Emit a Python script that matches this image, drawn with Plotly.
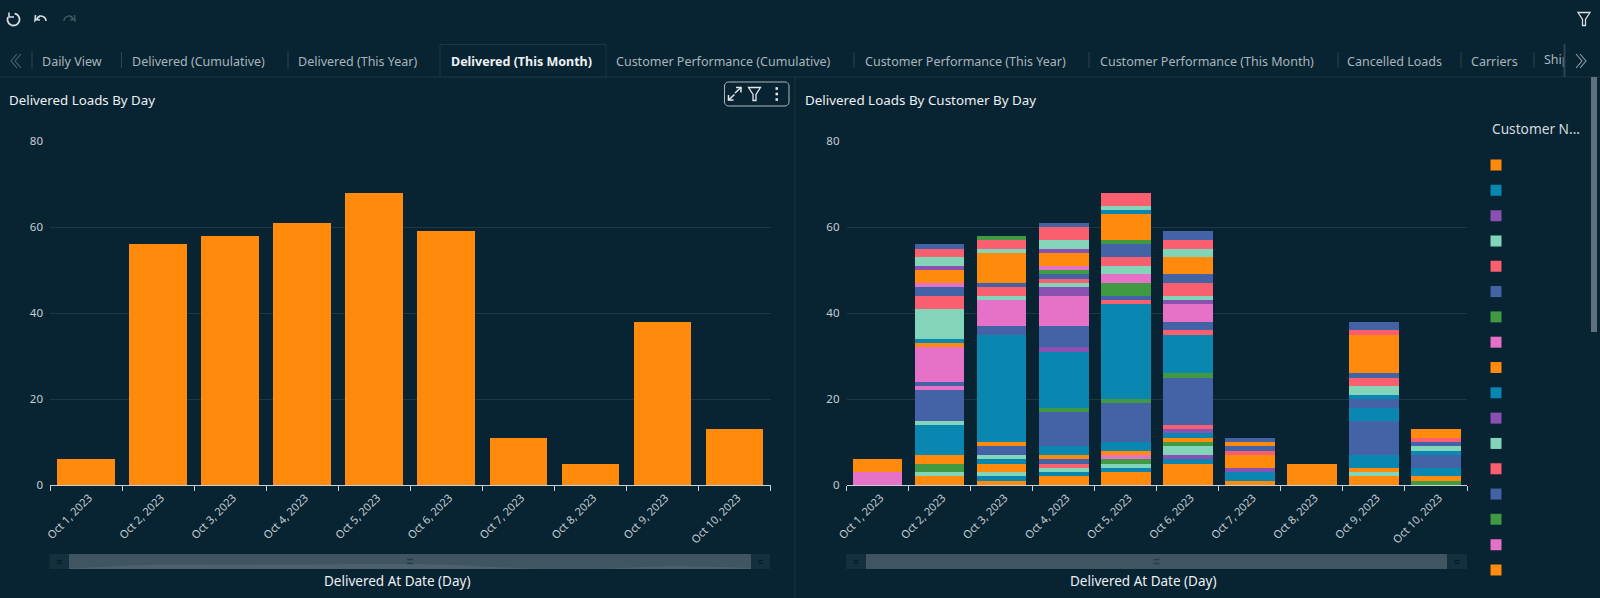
import numpy as np
import plotly.graph_objects as go

W, H = 1600, 598
BG = "#082332"
FONT = "Noto Sans"

days = ["Oct 1, 2023", "Oct 2, 2023", "Oct 3, 2023", "Oct 4, 2023", "Oct 5, 2023",
        "Oct 6, 2023", "Oct 7, 2023", "Oct 8, 2023", "Oct 9, 2023", "Oct 10, 2023"]
delivered_loads = [6, 56, 58, 61, 68, 59, 11, 5, 38, 13]

# Customer ranks and their load counts, one pair of lists per delivery day.
oct_1_customers = [7, 8]
oct_1_loads = [3, 3]
oct_2_customers = [0, 3, 6, 8, 9, 11, 13, 15, 21, 23, 24, 25, 27, 28, 29, 31, 32, 34, 35, 36, 37]
oct_2_loads = [2, 1, 2, 2, 7, 1, 7, 1, 1, 8, 1, 1, 7, 3, 2, 1, 3, 1, 2, 2, 1]
oct_3_customers = [0, 1, 3, 8, 9, 11, 13, 16, 17, 21, 23, 27, 28, 29, 32, 35, 36, 38]
oct_3_loads = [1, 1, 1, 2, 1, 1, 2, 1, 25, 2, 6, 1, 2, 1, 7, 1, 2, 1]
oct_4_customers = [0, 1, 3, 4, 5, 8, 9, 13, 14, 17, 18, 21, 23, 26, 27, 28, 29, 30, 31, 32, 34, 35, 36, 37]
oct_4_loads = [2, 1, 1, 1, 1, 1, 2, 8, 1, 13, 1, 5, 7, 2, 1, 1, 1, 1, 1, 3, 1, 2, 3, 1]
oct_5_customers = [0, 1, 3, 6, 7, 8, 9, 13, 14, 17, 20, 21, 22, 23, 27, 28, 29, 30, 32, 33, 35, 36]
oct_5_loads = [3, 1, 1, 1, 1, 1, 2, 9, 1, 22, 1, 1, 3, 2, 2, 2, 3, 1, 6, 1, 1, 3]
oct_6_customers = [0, 1, 2, 3, 6, 8, 9, 10, 12, 13, 14, 17, 20, 21, 23, 26, 27, 28, 29, 32, 35, 36, 37]
oct_6_loads = [5, 1, 1, 2, 1, 1, 1, 1, 1, 11, 1, 9, 1, 2, 4, 1, 1, 3, 2, 4, 2, 2, 2]
oct_7_customers = [0, 1, 2, 8, 12, 13, 16, 21]
oct_7_loads = [1, 2, 1, 3, 1, 1, 1, 1]
oct_8_customers = [0]
oct_8_loads = [5]
oct_9_customers = [0, 3, 8, 9, 13, 17, 21, 25, 27, 28, 29, 32, 36, 37]
oct_9_loads = [2, 1, 1, 3, 8, 3, 2, 1, 2, 2, 1, 9, 1, 2]
oct_10_customers = [6, 8, 9, 13, 17, 27, 29, 36, 40]
oct_10_loads = [1, 1, 2, 3, 1, 1, 1, 1, 2]

day_customers = [oct_1_customers, oct_2_customers, oct_3_customers, oct_4_customers, oct_5_customers,
                 oct_6_customers, oct_7_customers, oct_8_customers, oct_9_customers, oct_10_customers]
day_loads = [oct_1_loads, oct_2_loads, oct_3_loads, oct_4_loads, oct_5_loads,
             oct_6_loads, oct_7_loads, oct_8_loads, oct_9_loads, oct_10_loads]

legend_ranks = list(range(17))
y_ticks = [0, 20, 40, 60, 80]

tab_labels = ["Daily View", "Delivered (Cumulative)", "Delivered (This Year)", "Delivered (This Month)",
              "Customer Performance (Cumulative)", "Customer Performance (This Year)",
              "Customer Performance (This Month)", "Cancelled Loads", "Carriers"]
tab_starts = [42, 132, 298, 450.5, 616, 865, 1100, 1347, 1471]
tab_separators = [32, 121.5, 288, 854, 1089, 1338, 1461, 1534]

palette = ["#ff8a0c", "#0a87b0", "#8a50b2", "#83d5ba", "#fa5f70", "#4463a6", "#3f9a41", "#e671c9"]


def px(x):
    return x / W


def py(y):
    return 1 - y / H


def dom_x(a, b):
    return [px(a), px(b)]


def dom_y(top, bottom):
    return [py(bottom), py(top)]


def path_from(points, close=False):
    d = "M " + " L ".join(f"{px(x):.5f} {py(y):.5f}" for x, y in points)
    return d + (" Z" if close else "")


shapes = []


def rect(x0, y0, x1, y1, fill, line=None, width=1):
    shapes.append(dict(type="rect", xref="paper", yref="paper", x0=px(x0), x1=px(x1), y0=py(y0), y1=py(y1),
                       fillcolor=fill, line=dict(color=line or fill, width=width if line else 0), layer="below"))


def stroke(points, color="#d5dbdf", width=1.4, close=False, fill=None, layer="above"):
    shapes.append(dict(type="path", xref="paper", yref="paper", path=path_from(points, close),
                       line=dict(color=color, width=width), fillcolor=fill or "rgba(0,0,0,0)", layer=layer))


def arc(cx, cy, r, start, end, n=24):
    t = np.radians(np.linspace(start, end, n))
    return [(cx + r * np.cos(a), cy + r * np.sin(a)) for a in t]


def funnel(cx, cy, color="#d5dbdf"):
    stroke([(cx - 6, cy - 6.5), (cx + 6, cy - 6.5), (cx + 1.5, cy + 0.5), (cx + 1.5, cy + 6.5),
            (cx - 1.5, cy + 6.5), (cx - 1.5, cy + 0.5)], color, 1.3, close=True)


def hook(cx, color, side):
    # Undo / redo arrow: a curved tail with a small head on one side
    stroke([(cx - side * 6, 19.5), (cx - side * 1, 20)], color, 1.6)
    stroke([(cx - side * 5.5, 15), (cx - side * 6, 20.5), (cx - side * 1, 16)], color, 1.6)
    stroke([(cx - side * 4, 18)] + [(cx + side * (5.5 * np.cos(a) - 0.5), 21 - 5 * np.sin(a))
                                    for a in np.radians(np.linspace(110, 0, 10))][1:], color, 1.6)


# Workbook toolbar
stroke(arc(13.5, 19.5, 6, -80, 205), "#d5dbdf", 1.8)
stroke([(9, 12.5), (9, 17), (14, 17)], "#d5dbdf", 1.6)
hook(41, "#d5dbdf", 1)
hook(69, "#3d5561", -1)
funnel(1584, 19)

# Tab strip
rect(0, 76.5, W, 77.5, "#1a3543")
rect(440, 44.5, 606, 77, BG, "#1a3543", 1)
for x in tab_separators:
    rect(x - 0.5, 52, x + 0.5, 68, "#2c4552")
rect(1563.5, 44, 1565.5, 77, "#2c4552")
for i in range(2):
    stroke([(17 + 4 * i, 54), (11 + 4 * i, 61), (17 + 4 * i, 68)], "#4d6470", 1.1)
    stroke([(1576 + 4 * i, 54), (1582 + 4 * i, 61), (1576 + 4 * i, 68)], "#8fa0a9", 1.1)

# Panel divider and page scrollbar
rect(794.5, 77, 795.5, H, "#1a3543")
rect(1591, 77, 1597, 332, "#5e717c")

# Visual menu on the left panel, a rounded box with three icons
bx0, bx1, by0, by1, br = 724.5, 789, 82, 106, 4
outline = (arc(bx0 + br, by0 + br, br, 180, 270, 6) + arc(bx1 - br, by0 + br, br, 270, 360, 6)
           + arc(bx1 - br, by1 - br, br, 0, 90, 6) + arc(bx0 + br, by1 - br, br, 90, 180, 6))
stroke(outline, "#aeb9bf", 1, close=True, layer="below")
for tip, tail, h in [((741, 87.5), (735, 93), 1), ((728.5, 100), (734.5, 94.5), -1)]:
    stroke([tip, tail], "#e4e8ea", 1.5)
    stroke([(tip[0] - 5 * h, tip[1]), tip, (tip[0], tip[1] + 5 * h)], "#e4e8ea", 1.5)
funnel(754.5, 94, "#e4e8ea")
for dy in (-5.5, 0, 5.5):
    rect(775.5, 94 + dy - 1.3, 778, 94 + dy + 1.3, "#e4e8ea")

# Range scrollers under each panel
for x0, x1, left_end, right_start in [(49.5, 770, 69, 751), (846, 1467, 866, 1447)]:
    rect(x0, 554, x1, 569, "#14303e")
    rect(left_end, 554, right_start, 569, "#3f5561")
    mid = (left_end + right_start) / 2
    for gx in (mid - 2, mid, mid + 2):
        for gy in (559.5, 563.5):
            rect(gx - 0.7, gy - 0.7, gx + 0.7, gy + 0.7, "#1b3340")
    for hx in ((x0 + left_end) / 2, (x1 + right_start) / 2):
        for gy in (560.5, 563):
            rect(hx - 2.5, gy - 0.6, hx + 2.5, gy + 0.6, "#061a25")

fig = go.Figure()

# Total loads per day
fig.add_trace(go.Bar(x=days, y=delivered_loads, marker=dict(color=palette[0], line=dict(width=0)),
                     xaxis="x", yaxis="y", showlegend=False))

# Loads per customer per day, stacked by customer rank
all_ranks = sorted({c for ranks in day_customers for c in ranks})
for rank in all_ranks:
    xs, ys = [], []
    for day, ranks, loads in zip(days, day_customers, day_loads):
        if rank in ranks:
            xs.append(day)
            ys.append(loads[ranks.index(rank)])
    fig.add_trace(go.Bar(x=xs, y=ys, marker=dict(color=palette[rank % 8], line=dict(width=0)),
                         xaxis="x2", yaxis="y2", showlegend=False))

# Customer colour key, names are not displayed
fig.add_trace(go.Scatter(x=[0] * len(legend_ranks), y=legend_ranks, mode="markers",
                         marker=dict(symbol="square", size=11, color=[palette[r % 8] for r in legend_ranks]),
                         xaxis="x3", yaxis="y3", showlegend=False))

# Overview silhouette inside the left scroller
fig.add_trace(go.Scatter(x=days, y=delivered_loads, mode="lines", line=dict(width=0, shape="spline", color="rgba(0,0,0,0)"),
                         fill="tozeroy", fillcolor="rgba(255,255,255,0.07)",
                         xaxis="x4", yaxis="y4", showlegend=False))

# Last tab, cut off by the edge of the strip
fig.add_trace(go.Scatter(x=[1544], y=[61], mode="text", text=["Ship"], textposition="middle right",
                         textfont=dict(family=FONT, size=12.5, color="#a9b6bd"), cliponaxis=True,
                         xaxis="x5", yaxis="y5", showlegend=False))


def category_axis(domain):
    return dict(domain=domain, type="category", categoryorder="array", categoryarray=days,
                range=[-0.5, 9.5], tickson="boundaries", ticks="outside", ticklen=5, tickwidth=1.2,
                tickcolor="#c9d1d6", showline=True, linecolor="#c9d1d6", linewidth=1.2, showgrid=False,
                zeroline=False, tickangle=-45, ticklabelshift=3, ticklabelstandoff=1,
                tickfont=dict(family=FONT, size=11, color="#c5ced3"), automargin=False)


def value_axis(anchor):
    return dict(domain=dom_y(141, 485), range=[0, 80], tickvals=y_ticks, anchor=anchor, showgrid=True,
                gridcolor="#1c3745", gridwidth=1, zeroline=False, showline=False, ticks="",
                ticklabelstandoff=6, tickfont=dict(family=FONT, size=11.5, color="#c5ced3"), automargin=False)


def hidden(domain, rng=None, anchor=None):
    d = dict(domain=domain, visible=False, fixedrange=True)
    if rng:
        d["range"] = rng
    if anchor:
        d["anchor"] = anchor
    return d


annotations = []


def label(text, x, y, size=12, color="#a9b6bd", anchor="left", weight=None):
    if weight:
        text = f"<b>{text}</b>"
    annotations.append(dict(text=text, x=px(x), y=py(y), xref="paper", yref="paper", showarrow=False,
                            xanchor=anchor, yanchor="middle", align=anchor, borderpad=0, borderwidth=0,
                            font=dict(family=FONT, size=size, color=color)))


for text, start in zip(tab_labels, tab_starts):
    active = text == "Delivered (This Month)"
    label(text, start, 61, 12.5, "#eef1f3" if active else "#a9b6bd", weight=active)
label("Delivered Loads By Day", 9, 100.5, 13.3, "#eef1f3")
label("Delivered Loads By Customer By Day", 805, 100.5, 13.4, "#eef1f3")
label("Customer N...", 1491.5, 129, 13.7, "#d5dbdf")
label("Delivered At Date (Day)", 397, 581, 13.5, "#eef1f3", "center")
label("Delivered At Date (Day)", 1143, 581, 13.5, "#eef1f3", "center")

fig.update_layout(
    width=W, height=H, autosize=False, margin=dict(l=0, r=0, t=0, b=0),
    paper_bgcolor=BG, plot_bgcolor="rgba(0,0,0,0)", barmode="stack", bargap=0.2,
    showlegend=False, shapes=shapes, annotations=annotations,
    xaxis=category_axis(dom_x(50, 770.5)) | dict(anchor="y"),
    yaxis=value_axis("x"),
    xaxis2=category_axis(dom_x(846.5, 1467)) | dict(anchor="y2"),
    yaxis2=value_axis("x2"),
    xaxis3=hidden(dom_x(1486, 1506), [-1, 1], "y3"),
    yaxis3=hidden(dom_y(165 - 12.65, 570 + 12.65), [16.5, -0.5], "x3"),
    xaxis4=hidden(dom_x(69, 751), [0, 9], "y4") | dict(type="category", categoryorder="array", categoryarray=days),
    yaxis4=hidden(dom_y(554, 569), [0, 204], "x4"),
    xaxis5=hidden(dom_x(1536, 1563.5), [1536, 1563.5], "y5"),
    yaxis5=hidden(dom_y(50, 72), [72, 50], "x5"),
)

fig.write_html("out.html", config=dict(displayModeBar=False))
